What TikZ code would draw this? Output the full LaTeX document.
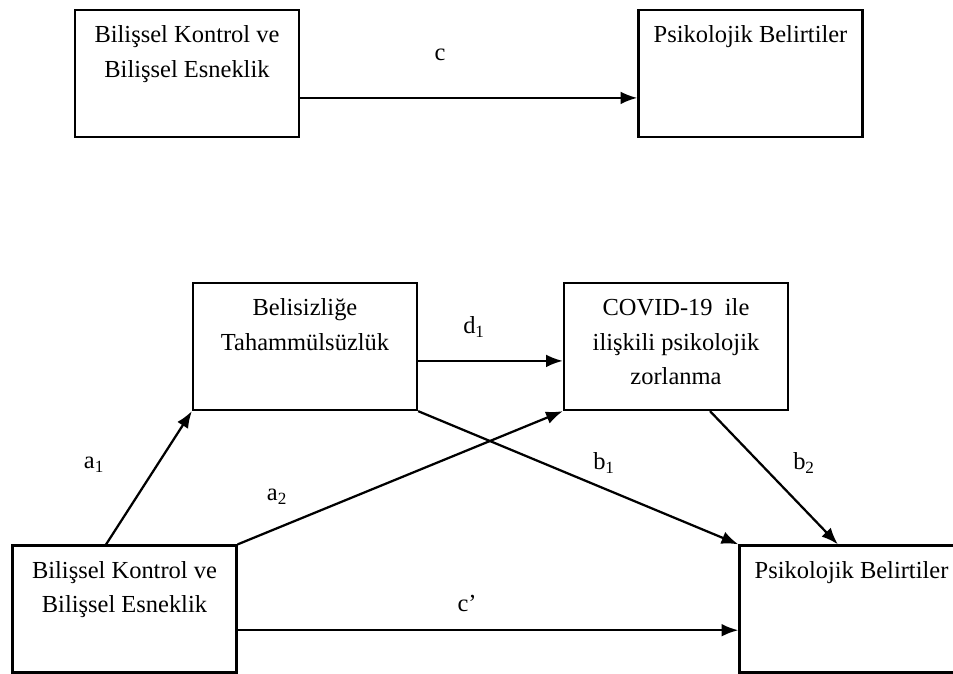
\documentclass[tikz,border=0pt]{standalone}
\usepackage{fontspec}
\setmainfont{Liberation Serif}
\usetikzlibrary{positioning,arrows.meta}

\tikzset{
  kutu/.style={draw, line width=1.6pt, minimum width=5.6cm, minimum height=3.175cm, inner sep=0pt},
  yazi/.style={align=center, inner sep=0pt, font=\fontsize{17.4}{24.5}\selectfont},
  etiket/.style={inner sep=0pt, font=\fontsize{17.4}{20}\selectfont},
  ok/.style={->, line width=1.6pt},
}

\begin{document}
\begin{tikzpicture}[x=0.025cm, y=-0.025cm, >={Latex[length=0.42cm, width=0.32cm]}]
	\useasboundingbox (0,0) rectangle (953,673);
	\clip (0,0) rectangle (953,673);
	% 1. üst model
	\node[kutu] (kt) at (187,73.5) {};
	\node[kutu] (pt) at (750.5,73.5) {};
	\node[yazi, below=0.42cm of kt.north] (ktyazi) {Bilişsel Kontrol ve\\Bilişsel Esneklik};
	\node[yazi, below=0.42cm of pt.north] (ptyazi) {Psikolojik Belirtiler};
	\draw[ok] ([yshift=-0.61cm]kt.east) -- ([yshift=-0.61cm]pt.west);
	\node[etiket] (lc) at (440,55) {c};
	
	% 2. aracılı model
	\node[kutu] (bl) at (305,346.5) {};
	\node[kutu] (cv) at (676,346.5) {};
	\node[kutu] (kb) at (124.5,609) {};
	\node[kutu] (pb) at (851.5,609) {};
	\node[yazi, below=0.42cm of bl.north] (blyazi) {Belisizliğe\\Tahammülsüzlük};
	\node[yazi, below=0.42cm of cv.north] (cvyazi) {COVID-19\ \ ile\\ilişkili psikolojik\\zorlanma};
	\node[yazi, below=0.42cm of kb.north] (kbyazi) {Bilişsel Kontrol ve\\Bilişsel Esneklik};
	\node[yazi, below=0.42cm of pb.north] (pbyazi) {Psikolojik Belirtiler};
	
	\draw[ok] ([yshift=-0.36cm]bl.east) -- ([yshift=-0.36cm]cv.west);
	\draw[ok] ([xshift=-0.46cm]kb.north) -- (bl.south west);
	\draw[ok] (kb.north east) -- (cv.south west);
	\draw[ok] (bl.south east) -- (pb.north west);
	\draw[ok] ([xshift=0.85cm]cv.south) -- ([xshift=-0.34cm]pb.north);
	\draw[ok] ([yshift=-0.53cm]kb.east) -- ([yshift=-0.53cm]pb.west);
	
	\node[etiket] (ld1) at (474,327) {d\textsubscript{1}};
	\node[etiket] (la1) at (94,465) {a\textsubscript{1}};
	\node[etiket] (la2) at (277,497) {a\textsubscript{2}};
	\node[etiket] (lb1) at (604,463) {b\textsubscript{1}};
	\node[etiket] (lb2) at (804,463) {b\textsubscript{2}};
	\node[etiket] (lcc) at (467,603) {c’};
\end{tikzpicture}
\end{document}
